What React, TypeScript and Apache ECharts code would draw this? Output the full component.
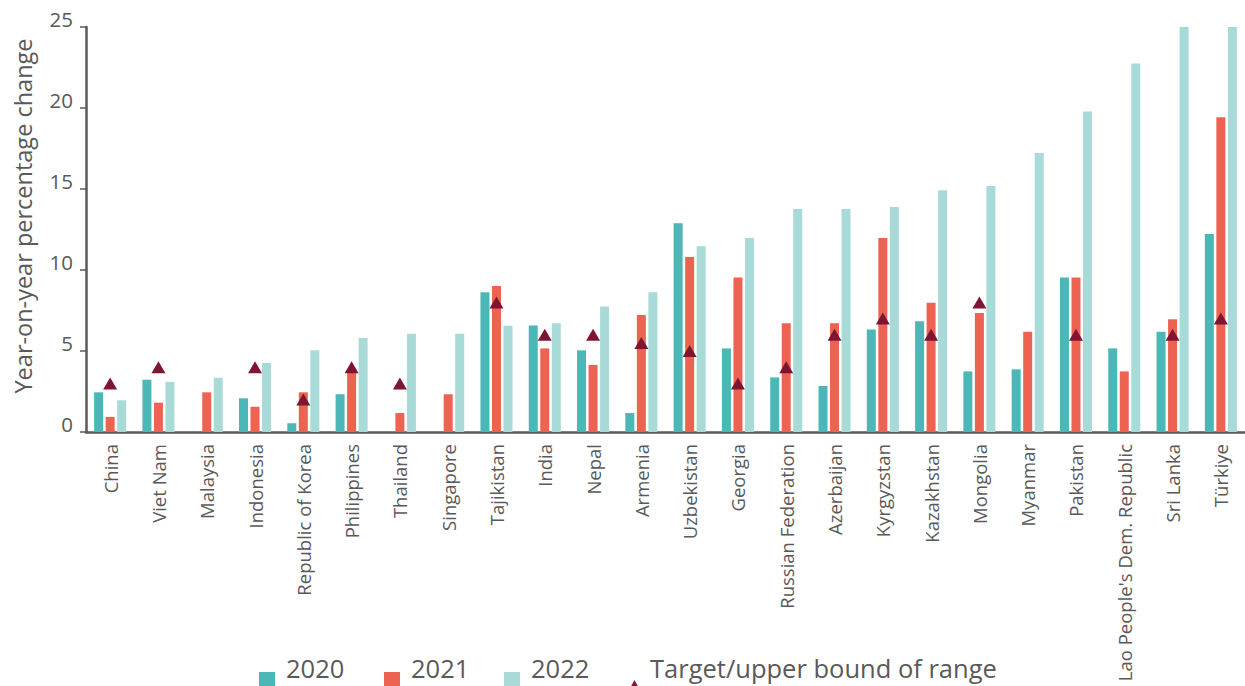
import React, { useEffect, useRef } from "react";
import * as echarts from "echarts";

const categories = [
  "China", "Viet Nam", "Malaysia", "Indonesia", "Republic of Korea", "Philippines",
  "Thailand", "Singapore", "Tajikistan", "India", "Nepal", "Armenia", "Uzbekistan",
  "Georgia", "Russian Federation", "Azerbaijan", "Kyrgyzstan", "Kazakhstan",
  "Mongolia", "Myanmar", "Pakistan", "Lao People's Dem. Republic", "Sri Lanka", "Türkiye",
];

const values2020 = [2.45, 3.23, null, 2.08, 0.54, 2.33, null, null, 8.62, 6.58, 5.04, 1.17,
  12.88, 5.16, 3.37, 2.84, 6.32, 6.83, 3.74, 3.87, 9.53, 5.16, 6.19, 12.22];

const values2021 = [0.93, 1.81, 2.45, 1.56, 2.45, 3.7, 1.17, 2.33, 9.01, 5.16, 4.14, 7.22,
  10.8, 9.53, 6.71, 6.71, 11.98, 7.98, 7.35, 6.19, 9.53, 3.74, 6.96, 19.43];

const values2022 = [1.96, 3.1, 3.35, 4.26, 5.04, 5.8, 6.07, 6.07, 6.56, 6.71, 7.74, 8.62,
  11.46, 11.98, 13.77, 13.77, 13.89, 14.92, 15.19, 17.22, 19.79, 22.75, 25, 25];

const targets = [3, 4, null, 4, 2, 4, 3, null, 8, 6, 6, 5.5, 5, 3, 4, 6, 7, 6, 8, null, 6, null, 6, 7];

const seriesNames = ["2020", "2021", "2022", "Target/upper bound of range"];

const yTicks = { min: 0, max: 25, interval: 5 };

const FONT = "'Open Sans', 'Noto Sans', sans-serif";
const GREY = "#595959";
const COLORS = ["#4BB7B6", "#EC6352", "#A8DAD8", "#801533"];

// Legend icons: shapes drawn low inside a taller item box (bottom-aligned like the reference)
const SQUARE_ICON = "path://M0,0L0.01,0M0,24L16,24L16,40L0,40Z";
const TRI_ICON = "path://M0,0L0.01,0M6.5,36L13,48L0,48Z";

export default function App() {
  const ref = useRef<HTMLDivElement>(null);

  useEffect(() => {
    document.body.style.margin = "0";
    if (!ref.current) return;
    const chart = echarts.init(ref.current, null, { renderer: "svg" });
    const barBase = { type: "bar" as const, barWidth: 9, barGap: "28%" };
    const legendText = { fontSize: 25.5, lineHeight: 28, color: GREY, fontFamily: FONT };
    const legendPos = [259, 384, 504, 628];
    chart.setOption({
      animation: false,
      backgroundColor: "#ffffff",
      grid: { left: 86, right: -1, top: 27, bottom: 254, containLabel: false },
      xAxis: {
        type: "category",
        data: categories,
        axisLine: { lineStyle: { color: GREY, width: 2.5 } },
        axisTick: { show: false },
        axisLabel: {
          rotate: 90,
          interval: 0,
          margin: 12,
          fontSize: 18.5,
          color: GREY,
          fontFamily: FONT,
        },
      },
      yAxis: {
        type: "value",
        min: yTicks.min,
        max: yTicks.max,
        interval: yTicks.interval,
        axisLine: { show: true, lineStyle: { color: GREY, width: 2.5 } },
        axisTick: { show: true, length: 6, lineStyle: { color: GREY, width: 1.5 } },
        splitLine: { show: false },
        axisLabel: {
          fontSize: 20.5,
          color: GREY,
          fontFamily: FONT,
          margin: 13,
          verticalAlign: "bottom",
          lineHeight: 17,
        },
      },
      legend: seriesNames.map((name, i) => ({
        left: legendPos[i],
        top: i === 3 ? 644 : 648,
        padding: 0,
        itemWidth: i === 3 ? 13 : 16,
        itemHeight: i === 3 ? 48 : 40,
        textStyle: { ...legendText, padding: [0, 0, 0, i === 3 ? 4 : 6] },
        data: [{ name, icon: i === 3 ? TRI_ICON : SQUARE_ICON }],
      })),
      graphic: [
        {
          type: "text",
          x: 23,
          y: 216,
          rotation: Math.PI / 2,
          style: {
            text: "Year-on-year percentage change",
            fontSize: 23.5,
            fill: GREY,
            fontFamily: FONT,
            textAlign: "center",
            textVerticalAlign: "middle",
          },
        },
      ],
      series: [
        { ...barBase, name: seriesNames[0], data: values2020, itemStyle: { color: COLORS[0] } },
        { ...barBase, name: seriesNames[1], data: values2021, itemStyle: { color: COLORS[1] } },
        { ...barBase, name: seriesNames[2], data: values2022, itemStyle: { color: COLORS[2] } },
        {
          type: "scatter",
          name: seriesNames[3],
          data: targets,
          symbol: "triangle",
          symbolSize: [14, 12],
          z: 5,
          itemStyle: { color: COLORS[3], opacity: 1 },
        },
      ],
    });
    return () => chart.dispose();
  }, []);

  return <div ref={ref} style={{ width: 1245, height: 686 }} />;
}
